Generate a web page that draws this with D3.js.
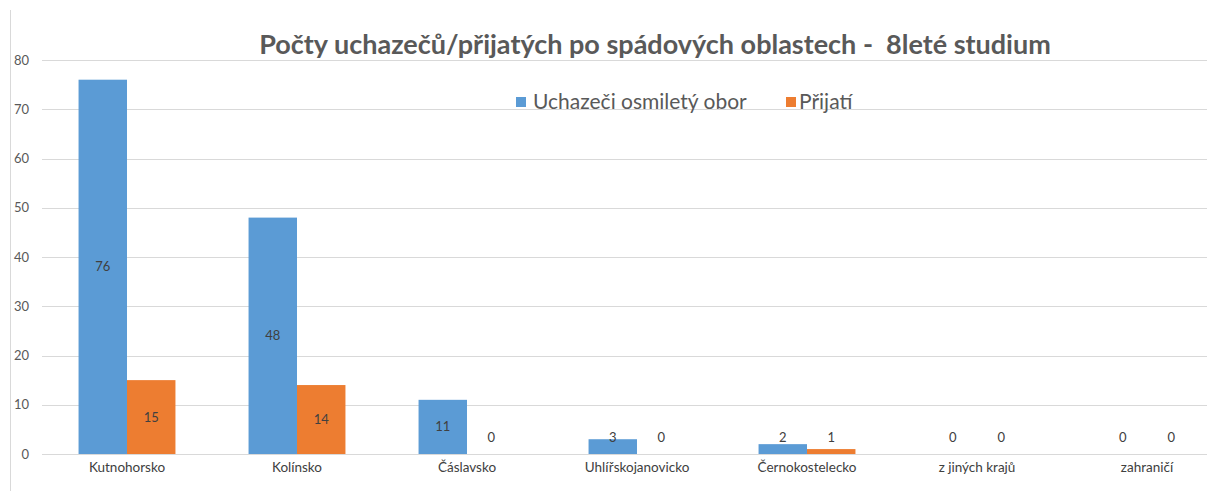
<!DOCTYPE html>
<html><head><meta charset="utf-8">
<script src="https://cdn.jsdelivr.net/npm/d3@7"></script>
<style>body{margin:0;background:#fff;} svg{display:block;font-family:Lato, "Open Sans", sans-serif;}</style>
</head><body>
<svg id="c" width="1207" height="491"></svg>
<script>
const categories = ["Kutnohorsko","Kolínsko","Čáslavsko","Uhlířskojanovicko","Černokostelecko","z jiných krajů","zahraničí"];
const applicants = [76,48,11,3,2,0,0];
const admitted = [15,14,0,0,1,0,0];
const seriesNames = ["Uchazeči osmiletý obor","Přijatí"];
const yTicks = [0,10,20,30,40,50,60,70,80];
const colors = ["#5b9bd5","#ed7d31"];

(function(){
const svg = d3.select("#c");
const W = 1207, H = 491;
const mLeft = 42, plotRight = 1232, mTop = 60, mBottom = 454;

svg.append("line").attr("x1",10.5).attr("x2",10.5).attr("y1",10).attr("y2",H).attr("stroke","#d9d9d9");

const y = d3.scaleLinear().domain([0,80]).range([mBottom, mTop]);
const x0 = d3.scaleBand().domain(categories).range([mLeft, plotRight]).paddingInner(0.43).paddingOuter(0.215);
const x1 = d3.scaleBand().domain([0,1]).range([0, x0.bandwidth()]);

svg.append("g").selectAll("line").data(yTicks).join("line")
  .attr("x1",mLeft).attr("x2",W).attr("y1",d=>Math.round(y(d))+0.5).attr("y2",d=>Math.round(y(d))+0.5)
  .attr("stroke","#d9d9d9").attr("stroke-width",1);

const yAxis = d3.axisLeft(y).tickValues(yTicks).tickSize(0).tickPadding(0);
const ya = svg.append("g").attr("transform",`translate(${mLeft-13},0)`).call(yAxis);
ya.select(".domain").remove();
ya.selectAll("text").attr("font-size",13).attr("fill","#595959").attr("font-family","Lato, sans-serif");

const xAxis = d3.axisBottom(x0).tickSize(0).tickPadding(0);
const xa = svg.append("g").attr("transform",`translate(0,${mBottom+8})`).call(xAxis);
xa.select(".domain").remove();
xa.selectAll("text").attr("font-size",13.5).attr("fill","#404040").attr("font-family","Lato, sans-serif");

const data = categories.map((c,i)=>({c, v:[applicants[i], admitted[i]]}));
const groups = svg.append("g").selectAll("g").data(data).join("g")
  .attr("transform",d=>`translate(${x0(d.c)},0)`);
groups.selectAll("rect").data(d=>d.v.map((v,k)=>({v,k}))).join("rect")
  .attr("x",d=>x1(d.k)).attr("width",x1.bandwidth())
  .attr("y",d=>y(d.v)).attr("height",d=>mBottom-y(d.v))
  .attr("fill",d=>colors[d.k]);
groups.selectAll("text.lbl").data(d=>d.v.map((v,k)=>({v,k}))).join("text")
  .attr("class","lbl")
  .attr("x",d=>x1(d.k)+x1.bandwidth()/2)
  .attr("y",d=>Math.min((y(d.v)+mBottom)/2, mBottom-17)+4.5)
  .attr("text-anchor","middle").attr("font-size",13).attr("fill","#404040")
  .text(d=>d.v);

svg.append("text").attr("x",655).attr("y",54).attr("text-anchor","middle")
  .attr("font-size",27).attr("font-weight","bold").attr("fill","#595959")
  .style("white-space","pre").attr("xml:space","preserve")
  .text("Počty uchazečů/přijatých po spádových oblastech -  8leté studium");

const leg = svg.append("g");
const legX = [516, 786];
seriesNames.forEach((n,i)=>{
  leg.append("rect").attr("x",legX[i]).attr("y",97).attr("width",10).attr("height",10).attr("fill",colors[i]);
  leg.append("text").attr("x",legX[i]+(i===0?17:13)).attr("y",109).attr("font-size",21).attr("fill","#595959").text(n);
});
})();
</script>
</body></html>
